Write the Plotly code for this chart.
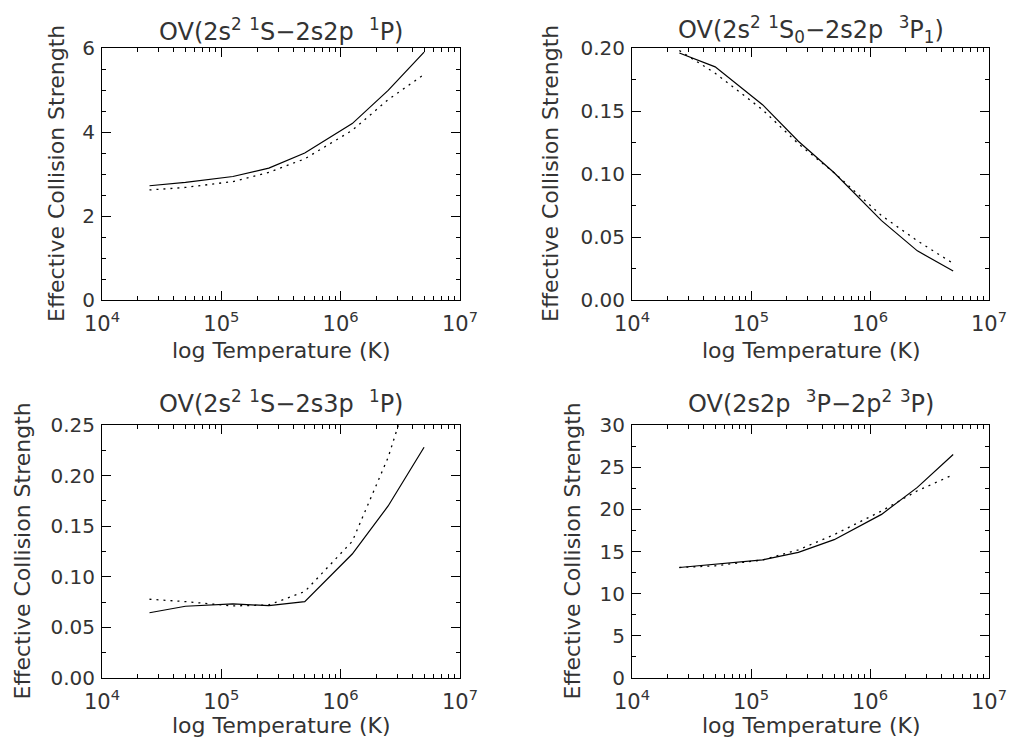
import plotly.graph_objects as go

W, H = 1010, 744

# ---------------- data ----------------
temperature = [2.5e4, 5.0e4, 1.25e5, 2.5e5, 5.0e5, 1.25e6, 2.5e6, 5.0e6]

p1_solid = [2.72, 2.80, 2.94, 3.14, 3.50, 4.20, 4.99, 5.90]
p1_dotted = [2.62, 2.68, 2.82, 3.04, 3.36, 4.04, 4.77, 5.37]

p2_solid = [0.196, 0.185, 0.155, 0.126, 0.101, 0.063, 0.039, 0.023]
p2_dotted = [0.198, 0.180, 0.151, 0.124, 0.101, 0.067, 0.047, 0.029]

p3_solid = [0.0645, 0.0709, 0.0732, 0.0715, 0.0755, 0.1225, 0.170, 0.228]
p3_dotted = [0.0778, 0.0755, 0.0712, 0.0722, 0.0854, 0.135, 0.218, 0.330]

p4_solid = [13.1, 13.45, 14.0, 14.9, 16.4, 19.4, 22.6, 26.5]
p4_dotted = [13.1, 13.3, 14.0, 15.2, 17.0, 19.8, 22.2, 24.1]

titles = [
    "OV(2s<sup>2</sup> <sup>1</sup>S\u22122s2p  <sup>1</sup>P)",
    "OV(2s<sup>2</sup> <sup>1</sup>S<sub>0</sub>\u22122s2p  <sup>3</sup>P<sub>1</sub>)",
    "OV(2s<sup>2</sup> <sup>1</sup>S\u22122s3p  <sup>1</sup>P)",
    "OV(2s2p  <sup>3</sup>P\u22122p<sup>2</sup> <sup>3</sup>P)",
]
x_label = "log Temperature (K)"
y_label = "Effective Collision Strength"

x_tick_vals = [1e4, 1e5, 1e6, 1e7]
x_tick_text = ["10<sup>4</sup>", "10<sup>5</sup>", "10<sup>6</sup>", "10<sup>7</sup>"]

y_ranges = [[0, 6], [0, 0.2], [0, 0.25], [0, 30]]
y_major = [2, 0.05, 0.05, 5]
y_minor = [0.5, 0.025, 0.025, 2.5]
y_formats = ["d", ".2f", ".2f", "d"]

# ---------------- layout geometry (pixels) ----------------
boxes = [(102, 460, 48, 300), (632, 989, 48, 300),
         (102, 460, 425, 678), (632, 989, 425, 678)]
title_y = [30, 30, 402, 402]
xlab_y = [350, 350, 725, 725]
ylab_x = [56, 550, 22, 572]

FONT = "DejaVu Sans"
TXT = "#333333"

minor_x = [m * 10 ** k for k in range(4, 7) for m in range(2, 10)]

fig = go.Figure()
series = [(p1_solid, p1_dotted), (p2_solid, p2_dotted),
          (p3_solid, p3_dotted), (p4_solid, p4_dotted)]

layout = dict(
    template="none",
    width=W, height=H,
    margin=dict(l=0, r=0, t=0, b=0, autoexpand=False),
    paper_bgcolor="white", plot_bgcolor="white",
    showlegend=False,
    font=dict(family=FONT, color=TXT),
    annotations=[],
)

for i, (solid, dotted) in enumerate(series):
    n = i + 1
    xa = "x" if n == 1 else f"x{n}"
    ya = "y" if n == 1 else f"y{n}"
    fig.add_trace(go.Scatter(x=temperature, y=solid, mode="lines",
                             line=dict(color="black", width=1.2),
                             xaxis=xa, yaxis=ya))
    fig.add_trace(go.Scatter(x=temperature, y=dotted, mode="lines",
                             line=dict(color="black", width=1.3, dash="2px,5px"),
                             xaxis=xa, yaxis=ya))
    l, r, t, b = boxes[i]
    xkey = "xaxis" if n == 1 else f"xaxis{n}"
    ykey = "yaxis" if n == 1 else f"yaxis{n}"
    layout[xkey] = dict(
        type="log", range=[4, 7], domain=[l / W, r / W], anchor=ya,
        automargin=False,
        tickmode="array", tickvals=x_tick_vals, ticktext=x_tick_text,
        ticks="inside", ticklen=9, tickwidth=1, tickcolor="black",
        showline=True, linecolor="black", linewidth=1, mirror="allticks",
        showgrid=False, zeroline=False,
        tickfont=dict(family=FONT, size=21, color=TXT),
        ticklabelstandoff=5,
        minor=dict(tickmode="array", tickvals=minor_x, ticks="inside",
                   ticklen=4, tickcolor="black", tickwidth=1, showgrid=False),
    )
    layout[ykey] = dict(
        range=y_ranges[i], domain=[1 - b / H, 1 - t / H], anchor=xa,
        automargin=False,
        dtick=y_major[i], tick0=0, tickformat=y_formats[i],
        ticks="inside", ticklen=9, tickwidth=1, tickcolor="black",
        showline=True, linecolor="black", linewidth=1, mirror="allticks",
        showgrid=False, zeroline=False,
        tickfont=dict(family=FONT, size=20, color=TXT),
        ticklabelstandoff=2,
        minor=dict(dtick=y_minor[i], tick0=0, ticks="inside", ticklen=4,
                   tickcolor="black", tickwidth=1, showgrid=False),
    )
    cx = (l + r) / 2 / W
    layout["annotations"].append(dict(
        text=titles[i], xref="paper", yref="paper", x=cx, y=1 - title_y[i] / H,
        xanchor="center", yanchor="middle", showarrow=False,
        font=dict(family=FONT, size=24, color=TXT)))
    layout["annotations"].append(dict(
        text=x_label, xref="paper", yref="paper", x=cx, y=1 - xlab_y[i] / H,
        xanchor="center", yanchor="middle", showarrow=False,
        font=dict(family=FONT, size=22, color=TXT)))
    layout["annotations"].append(dict(
        text=y_label, xref="paper", yref="paper", x=ylab_x[i] / W,
        y=1 - (t + b) / 2 / H, textangle=-90,
        xanchor="center", yanchor="middle", showarrow=False,
        font=dict(family=FONT, size=22, color=TXT)))

fig.update_layout(**layout)
fig.write_html("out.html")
